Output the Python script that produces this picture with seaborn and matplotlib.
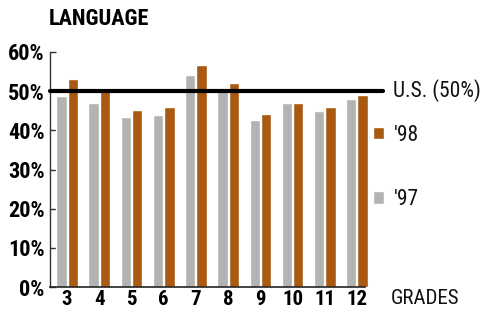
import pandas as pd
import seaborn as sns
import matplotlib.pyplot as plt
from matplotlib import font_manager
from matplotlib.patches import Patch

# data
grades = ['3', '4', '5', '6', '7', '8', '9', '10', '11', '12']
pct_97 = [48.8, 47.0, 43.4, 43.9, 54.1, 50.0, 42.6, 47.0, 44.9, 48.0]
pct_98 = [53.1, 50.0, 45.3, 46.0, 56.7, 52.1, 44.2, 47.0, 45.9, 49.0]
years = ["'97", "'98"]
us_level = 50

gray = '#b3b3b3'
orange = '#a95a12'

df = pd.DataFrame({
    'grade': grades * 2,
    'pct': pct_97 + pct_98,
    'year': [years[0]] * len(grades) + [years[1]] * len(grades),
})

sns.set_style('white')

# pick a narrow font if one is around
names = {f.name for f in font_manager.fontManager.ttflist}
if 'Roboto Condensed' in names:
    plt.rcParams['font.family'] = ['Roboto Condensed', 'DejaVu Sans']
elif 'Liberation Sans Narrow' in names:
    plt.rcParams['font.family'] = ['Liberation Sans Narrow', 'DejaVu Sans']
else:
    plt.rcParams['font.family'] = ['DejaVu Sans']
    plt.rcParams['font.stretch'] = 'condensed'

fig = plt.figure(figsize=(4.87, 3.11), dpi=100)
ax = fig.add_axes([50 / 487, 24 / 311, 315 / 487, 235 / 311])

sns.barplot(data=df, x='grade', y='pct', hue='year', hue_order=years,
            palette=[gray, orange], width=0.7, gap=0.08, ax=ax,
            legend=False, saturation=1)

ax.set_ylim(0, 60)
ax.set_xlim(-0.53, 9.25)
for p in ax.patches:
    p.set_clip_on(False)

# U.S. reference line
ax.plot([-0.53, 9.81], [us_level, us_level], color='black', lw=3, clip_on=False, zorder=5)

ax.set_yticks(range(0, 61, 10))
ax.set_yticklabels([f'{v}%' for v in range(0, 61, 10)], fontsize=16, fontweight='heavy')
ax.set_xticks(range(len(grades)))
ax.set_xticklabels(grades, fontsize=15, fontweight='heavy')
ax.tick_params(axis='y', direction='in', length=4, width=1, color='#333333', pad=4, left=True)
ax.tick_params(axis='x', length=0, pad=2)
for lab in ax.get_xticklabels() + ax.get_yticklabels():
    lab.set_color('black')
ax.set_xlabel('')
ax.set_ylabel('')

sns.despine(ax=ax)
ax.spines['left'].set_color('#333333')
ax.spines['bottom'].set_color('#222222')
ax.spines['left'].set_linewidth(1)
ax.spines['bottom'].set_linewidth(1.2)

fig.text(49 / 487, 1 - 19 / 311, 'LANGUAGE', fontsize=16, fontweight='heavy',
         va='center', ha='left', color='black')
fig.text(393 / 487, 1 - 91 / 311, 'U.S. (50%)', fontsize=15.5, va='center', ha='left',
         color='#111111')
fig.text(391 / 487, 1 - 299 / 311, 'GRADES', fontsize=15, va='center', ha='left',
         color='#111111')

handles = [Patch(facecolor=orange, label=years[1]), Patch(facecolor=gray, label=years[0])]
leg = fig.legend(handles=handles, loc='upper left', bbox_to_anchor=(373 / 487, 1 - 125 / 311),
                 frameon=False, fontsize=15.5, handlelength=0.5, handleheight=0.5,
                 handletextpad=0.45, labelspacing=2.0, borderpad=0, borderaxespad=0)
for t in leg.get_texts():
    t.set_color('#111111')

fig.savefig('out.png', dpi=100)
